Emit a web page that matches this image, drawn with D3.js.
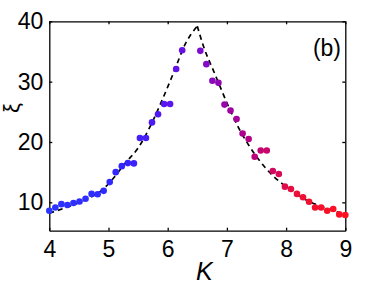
<!DOCTYPE html>
<html>
<head>
<meta charset="utf-8">
<script src="https://cdn.jsdelivr.net/npm/d3@7"></script>
<style>
  body { margin: 0; background: #fff; }
  svg { display: block; }
  .axis text { font-family: "Liberation Sans", Arial, sans-serif; font-size: 23px; fill: #000; }
  .axis path, .axis line { stroke: #000; stroke-width: 1.3; }
</style>
</head>
<body>
<div id="chart"></div>
<script>
// measured points: index on an even grid of 50 K values in [4, 9] (two missing near the peak)
var pointIndex = [0, 1, 2, 3, 4, 5, 6, 7, 8, 9, 10, 11, 12, 13, 14, 15, 16, 17, 18, 19, 20, 21, 22,
  25, 26, 27, 28, 29, 30, 31, 32, 33, 34, 35, 36, 37, 38, 39, 40, 41, 42, 43, 44, 45, 46, 47, 48, 49];
var pointXi = [8.6, 9.15, 9.7, 9.55, 9.9, 10.15, 10.6, 11.4, 11.35, 11.9, 13.35, 15.0, 16.0, 16.5, 16.45,
  20.65, 20.65, 23.25, 24.6, 26.3, 26.3, 32.1, 35.2,
  35.1, 32.9, 30.15, 29.8, 26.2, 25.2, 23.8, 21.4, 20.5, 17.55, 18.6, 18.6, 15.2, 14.7, 12.6, 12.2,
  11.4, 10.85, 10.1, 9.15, 9.15, 8.6, 8.9, 8.0, 7.9];

// dashed fit curve (left branch and right branch share the peak)
var fitLeftK = [4.0, 4.3, 4.6, 4.9, 5.1, 5.3, 5.5, 5.7, 5.9, 6.1, 6.3, 6.5];
var fitLeftXi = [8.2, 9.2, 10.4, 12.1, 14.2, 16.7, 19.0, 22.5, 26.8, 31.5, 36.3, 39.2];
var fitRightK = [6.5, 6.6, 6.8, 7.0, 7.2, 7.4, 7.6, 7.8, 8.0, 8.2, 8.4, 8.6, 8.8, 9.0];
var fitRightXi = [39.2, 36.0, 31.2, 26.5, 22.3, 19.0, 16.3, 14.2, 12.6, 11.2, 10.1, 9.3, 8.6, 8.0];

var xTicks = [4, 5, 6, 7, 8, 9];
var yTicks = [10, 20, 30, 40];

var width = 382, height = 287;
var margin = { top: 21.3, right: 36.7, bottom: 56.3, left: 49.3 };

var svg = d3.select("#chart").append("svg")
  .attr("width", width)
  .attr("height", height);

var x = d3.scaleLinear().domain([4, 9]).range([margin.left, width - margin.right]);
var y = d3.scaleLinear().domain([5.3, 40]).range([height - margin.bottom, margin.top]);

var color = d3.scaleLinear()
  .domain([4, 5.2, 6.3, 7.3, 8.2, 9])
  .range(["#2a35ff", "#3326ff", "#6a10e6", "#b0008c", "#ee1036", "#ff1020"]);

// axes, ticks pointing inward on all four sides
svg.append("g").attr("class", "axis")
  .attr("transform", "translate(0," + y.range()[0] + ")")
  .call(d3.axisBottom(x).tickValues(xTicks).tickSizeInner(-3).tickSizeOuter(0).tickPadding(10).tickFormat(d3.format("d")));
svg.append("g").attr("class", "axis")
  .attr("transform", "translate(0," + y.range()[1] + ")")
  .call(d3.axisTop(x).tickValues(xTicks).tickSizeInner(-3).tickSizeOuter(0).tickFormat(""));
svg.append("g").attr("class", "axis")
  .attr("transform", "translate(" + x.range()[0] + ",0)")
  .call(d3.axisLeft(y).tickValues(yTicks).tickSizeInner(-3).tickSizeOuter(0).tickPadding(6).tickFormat(d3.format("d")));
svg.append("g").attr("class", "axis")
  .attr("transform", "translate(" + x.range()[1] + ",0)")
  .call(d3.axisRight(y).tickValues(yTicks).tickSizeInner(-3).tickSizeOuter(0).tickFormat(""));

// dashed fit
var fitLine = d3.line()
  .x(function (d) { return x(d[0]); })
  .y(function (d) { return y(d[1]); })
  .curve(d3.curveMonotoneX);
var fitLeft = fitLeftK.map(function (k, i) { return [k, fitLeftXi[i]]; });
var fitRight = fitRightK.map(function (k, i) { return [k, fitRightXi[i]]; });
svg.append("path")
  .attr("fill", "none")
  .attr("stroke", "#000")
  .attr("stroke-width", 1.7)
  .attr("stroke-dasharray", "5,4")
  .attr("d", fitLine(fitLeft) + fitLine(fitRight));

// points
var points = pointIndex.map(function (n, i) { return { k: 4 + n * 5 / 49, xi: pointXi[i] }; });
svg.selectAll("circle.pt")
  .data(points)
  .enter().append("circle")
  .attr("class", "pt")
  .attr("cx", function (d) { return x(d.k); })
  .attr("cy", function (d) { return y(d.xi); })
  .attr("r", 3.3)
  .style("fill", function (d) { return color(d.k); });

// labels
svg.append("text")
  .attr("x", x(6.5) + 7)
  .attr("y", 280)
  .attr("text-anchor", "middle")
  .style("font-family", "Liberation Sans, Arial, sans-serif")
  .style("font-style", "italic")
  .style("font-size", "25px")
  .text("K");

svg.append("text")
  .attr("transform", "translate(19,108) rotate(-90)")
  .attr("text-anchor", "middle")
  .style("font-family", "Liberation Sans, Arial, sans-serif")
  .style("font-size", "22px")
  .text("ξ");

svg.append("text")
  .attr("x", 341)
  .attr("y", 56)
  .attr("text-anchor", "end")
  .style("font-family", "Liberation Sans, Arial, sans-serif")
  .style("font-size", "23px")
  .text("(b)");
</script>
</body>
</html>
